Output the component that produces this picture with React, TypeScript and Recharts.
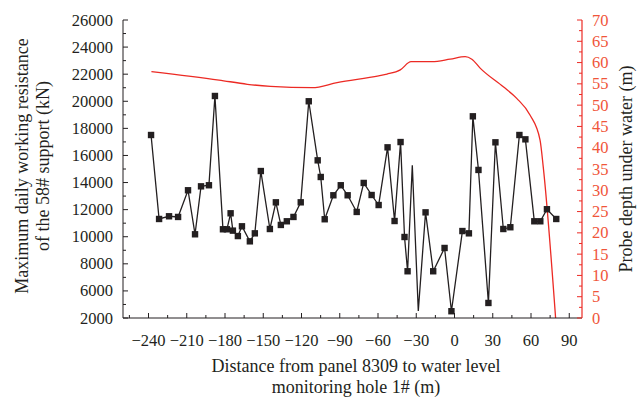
import React from "react";
import { ComposedChart, Line, XAxis, YAxis } from "recharts";

// distance from panel 8309 (m) and max daily working resistance (kN)
const distance = [
  -238, -231.7, -223.9, -216.8, -209, -203.5, -198.8, -192.6, -187.9, -181.6,
  -178.5, -175.6, -173.8, -169.9, -166.7, -160.5, -156.6, -151.9, -144.8, -140.1,
  -136.2, -131.5, -126.3, -120.6, -114.3, -107.3, -104.9, -101.8, -95, -89.2,
  -83.8, -76.7, -71.2, -65, -59.5, -52.5, -47, -42.3, -39.2, -36.8,
  -33.1, -28.4, -22.7, -16.7, -7.8, -2.4, 6.2, 11.3, 14.4, 18.8,
  26.6, 32.1, 38.3, 43.8, 50.9, 55.6, 62.6, 67.3, 72.5, 79.8,
];
const resistance = [
  17510, 11310, 11510, 11460, 13430, 10180, 13720, 13800, 20390, 10550,
  10550, 11730, 10450, 10050, 10770, 9660, 10250, 14850, 10570, 12540,
  10870, 11140, 11460, 12540, 20000, 15640, 14410, 11290, 13060, 13800,
  13060, 11830, 13970, 13080, 12340, 16600, 11160, 16990, 9980, 7450,
  15270, 4520, 11800, 7450, 9170, 4500, 10420, 10250, 18890, 14930,
  5110, 16970, 10570, 10700, 17510, 17190, 11140, 11140, 12030, 11310,
];
// points drawn without a square marker
const noMarker = [40, 41];

// probe depth under water (m)
const depthDistance = [
  -237.7, -184.7, -162.5, -144.3, -111.6, -92.1, -59.5, -52.9, -42.5, -34.1,
  -17.7, -3.4, 8.4, 13.6, 20.1, 38.3, 48.8, 59.2, 67.1, 69.6, 79.3,
];
const depth = [
  57.9, 55.9, 54.9, 54.4, 54.1, 55.3, 56.9, 57.3, 58.3, 60.2,
  60.2, 60.8, 61.4, 60.8, 58.7, 54.3, 51.6, 47.7, 41.8, 35.5, 0,
];

const xTicks = [
  -255, -240, -225, -210, -195, -180, -165, -150, -135, -120, -105, -90, -75,
  -60, -45, -30, -15, 0, 15, 30, 45, 60, 75, 90,
];
const leftTicks = [
  4000, 5000, 6000, 7000, 8000, 9000, 10000, 11000, 12000, 13000, 14000, 15000,
  16000, 17000, 18000, 19000, 20000, 21000, 22000, 23000, 24000, 25000, 26000,
];
const leftMajor = [4000, 6000, 8000, 10000, 12000, 14000, 16000, 18000, 20000, 22000, 24000, 26000];
const leftLabels = ["2000", "6000", "8000", "10000", "12000", "14000", "16000", "18000", "20000", "22000", "24000", "26000"];
const rightTicks = [
  0, 2.5, 5, 7.5, 10, 12.5, 15, 17.5, 20, 22.5, 25, 27.5, 30, 32.5, 35, 37.5,
  40, 42.5, 45, 47.5, 50, 52.5, 55, 57.5, 60, 62.5, 65, 67.5, 70,
];

const resData = distance.map((x, i) => ({ x, res: resistance[i] }));
const depthData = depthDistance.map((x, i) => ({ x, depth: depth[i] }));

const INK = "#231f20";
const RED = "#ec2a24";
const RED_TEXT = "#f0553a";
const FONT = "'Liberation Serif', 'Times New Roman', serif";

const XTick = (props: any) => {
  const { x, y, payload } = props;
  const v = payload.value;
  const major = v % 30 === 0;
  return (
    <g>
      <line x1={x} x2={x} y1={y} y2={y - (major ? 5 : 3)} stroke={INK} strokeWidth={1} />
      {major && (
        <text x={x} y={y + 28} textAnchor="middle" fontSize={16.5} fontFamily={FONT} fill={INK}>
          {v < 0 ? "\u2212" + Math.abs(v) : String(v)}
        </text>
      )}
    </g>
  );
};

const LeftTick = (props: any) => {
  const { x, y, payload } = props;
  const idx = leftMajor.indexOf(payload.value);
  const major = idx >= 0;
  return (
    <g>
      <line x1={x} x2={x + (major ? 5 : 3)} y1={y} y2={y} stroke={INK} strokeWidth={1} />
      {major && (
        <text x={x - 10} y={y + 5.5} textAnchor="end" fontSize={16.5} fontFamily={FONT} fill={INK}>
          {leftLabels[idx]}
        </text>
      )}
    </g>
  );
};

const RightTick = (props: any) => {
  const { x, y, payload } = props;
  const v = payload.value;
  const major = v % 5 === 0;
  return (
    <g>
      <line x1={x} x2={x - (major ? 5 : 3)} y1={y} y2={y} stroke={RED} strokeWidth={1} />
      {major && (
        <text x={x + 10} y={y + 5.5} textAnchor="start" fontSize={16.5} fontFamily={FONT} fill={RED_TEXT}>
          {String(v)}
        </text>
      )}
    </g>
  );
};

const XTitle = () => (
  <g fontFamily={FONT} fontSize={18} fill={INK} textAnchor="middle">
    <text x={356} y={372}>Distance from panel 8309 to water level</text>
    <text x={356} y={393}>monitoring hole 1# (m)</text>
  </g>
);

const LeftTitle = () => (
  <g fontFamily={FONT} fontSize={18} fill={INK} textAnchor="middle">
    <text x={28} y={166} transform="rotate(-90 28 166)">Maximum daily working resistance</text>
    <text x={49} y={166} transform="rotate(-90 49 166)">of the 58# support (kN)</text>
  </g>
);

const RightTitle = () => (
  <text
    x={632}
    y={169}
    transform="rotate(-90 632 169)"
    textAnchor="middle"
    fontFamily={FONT}
    fontSize={18}
    fill={INK}
  >
    Probe depth under water (m)
  </text>
);

const Square = (props: any) => {
  const { cx, cy, index } = props;
  if (noMarker.includes(index)) return <g key={`m${index}`} />;
  return <rect key={`m${index}`} x={cx - 3.2} y={cy - 3.2} width={6.4} height={6.4} fill={INK} />;
};

export default function App() {
  return (
    <div style={{ position: "absolute", left: 0, top: 0, width: 637, height: 398, background: "#fff" }}>
      <ComposedChart width={637} height={398} margin={{ top: 20, right: 0, bottom: 0, left: 0 }}>
        <XAxis
          dataKey="x"
          type="number"
          domain={[-260, 100]}
          ticks={xTicks}
          interval={0}
          allowDataOverflow
          height={80}
          tickSize={0}
          tickMargin={0}
          tickLine={false}
          axisLine={{ stroke: INK, strokeWidth: 1 }}
          tick={<XTick />}
          label={<XTitle />}
        />
        <YAxis
          yAxisId="left"
          orientation="left"
          type="number"
          domain={[4000, 26000]}
          ticks={leftTicks}
          interval={0}
          allowDataOverflow
          width={123}
          tickSize={0}
          tickMargin={0}
          tickLine={false}
          axisLine={{ stroke: INK, strokeWidth: 1 }}
          tick={<LeftTick />}
          label={<LeftTitle />}
        />
        <YAxis
          yAxisId="right"
          orientation="right"
          type="number"
          domain={[0, 70]}
          ticks={rightTicks}
          interval={0}
          allowDataOverflow
          width={55}
          tickSize={0}
          tickMargin={0}
          tickLine={false}
          axisLine={{ stroke: RED, strokeWidth: 1.2 }}
          tick={<RightTick />}
          label={<RightTitle />}
        />
        <Line
          yAxisId="right"
          data={depthData}
          dataKey="depth"
          type="monotone"
          stroke={RED}
          strokeWidth={1.3}
          dot={false}
          isAnimationActive={false}
        />
        <Line
          yAxisId="left"
          data={resData}
          dataKey="res"
          type="linear"
          stroke={INK}
          strokeWidth={1.3}
          dot={Square}
          isAnimationActive={false}
        />
      </ComposedChart>
    </div>
  );
}
